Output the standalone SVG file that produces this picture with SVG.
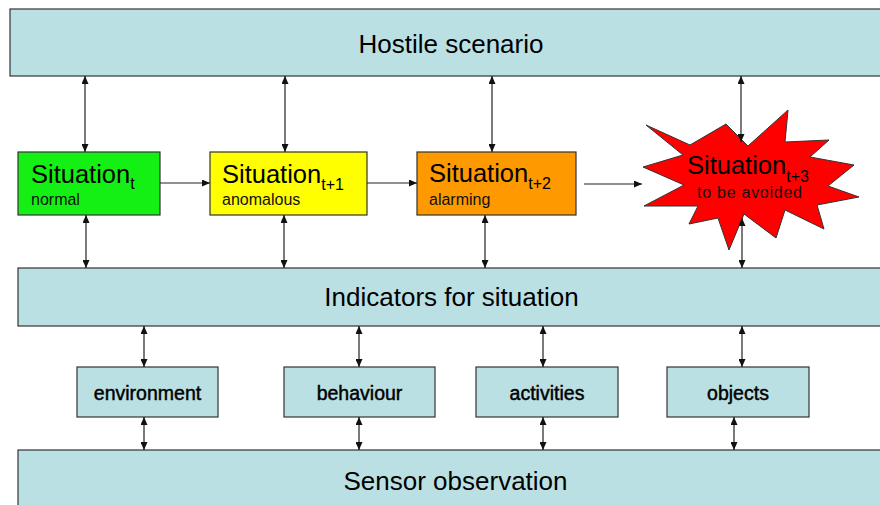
<svg xmlns="http://www.w3.org/2000/svg" width="880" height="505" viewBox="0 0 880 505">
<style>
  .bar { fill: #BBE0E3; stroke: #333; stroke-width: 1.2; }
  .small { fill: #BBE0E3; stroke: #333; stroke-width: 1.2; }
  .sit { stroke: #333; stroke-width: 1.2; }
  .big { font-family: "Liberation Sans", Arial, sans-serif; font-size: 26px; fill: #000; }
  .main { font-family: "Liberation Sans", Arial, sans-serif; font-size: 25.5px; fill: #000; }
  .sub { font-family: "Liberation Sans", Arial, sans-serif; font-size: 16px; fill: #000; }
  .lab { font-family: "Liberation Sans", Arial, sans-serif; font-size: 16px; fill: #111; }
  .box { font-family: "Liberation Sans", Arial, sans-serif; font-size: 19.5px; fill: #000; stroke: #000; stroke-width: 0.45; }
  .conn line { stroke: #222; stroke-width: 1.2; fill: none; }
</style>
<defs>
  <marker id="ah" markerUnits="userSpaceOnUse" markerWidth="8" markerHeight="7" refX="8" refY="3.5" orient="auto-start-reverse">
    <path d="M0,0 L8,3.5 L0,7 z" fill="#111"/>
  </marker>
</defs>
<rect width="880" height="505" fill="#fff"/>

<g id="hostile">
  <rect class="bar" x="10" y="9" width="880" height="67"/>
  <text class="big" x="451" y="53" text-anchor="middle">Hostile scenario</text>
</g>

<g id="situation-t">
  <rect class="sit" x="18" y="152" width="142" height="63" fill="#14F014"/>
  <text class="main" x="31" y="183">Situation<tspan class="sub" dy="6">t</tspan></text>
  <text class="lab" x="31" y="205">normal</text>
</g>

<g id="situation-t1">
  <rect class="sit" x="210" y="152" width="157" height="63" fill="#FFFF00"/>
  <text class="main" x="222" y="183">Situation<tspan class="sub" dy="7">t+1</tspan></text>
  <text class="lab" x="222" y="205">anomalous</text>
</g>

<g id="situation-t2">
  <rect class="sit" x="417" y="152" width="159" height="63" fill="#FF9900"/>
  <text class="main" x="429" y="182">Situation<tspan class="sub" dy="7">t+2</tspan></text>
  <text class="lab" x="429" y="205">alarming</text>
</g>

<g id="situation-t3">
  <polygon fill="#FF0000" stroke="#333" stroke-width="1" points="646,125 690,145 726,124 748,146 788,110 785,142 829,140 810,157 854,165 828,186 859,197 817,205 824,229 785,210 776,238 744,214 729,250 718,218 689,224 698,206 644,206 684,185 643,167 683,155"/>
  <text class="main" x="687" y="174" fill="#1a0000">Situation<tspan class="sub" dy="8">t+3</tspan></text>
  <text class="lab" x="697" y="198" font-size="17.5" textLength="105" fill="#1a0000">to be avoided</text>
</g>

<g id="indicators">
  <rect class="bar" x="18" y="268" width="880" height="58"/>
  <text class="big" x="451.5" y="306" text-anchor="middle">Indicators for situation</text>
</g>

<g id="environment">
  <rect class="small" x="77" y="367" width="141" height="50"/>
  <text class="box" x="147.5" y="400" text-anchor="middle">environment</text>
</g>
<g id="behaviour">
  <rect class="small" x="284" y="367" width="151" height="50"/>
  <text class="box" x="359.5" y="400" text-anchor="middle">behaviour</text>
</g>
<g id="activities">
  <rect class="small" x="476" y="367" width="142" height="50"/>
  <text class="box" x="547" y="400" text-anchor="middle">activities</text>
</g>
<g id="objects">
  <rect class="small" x="667" y="367" width="142" height="50"/>
  <text class="box" x="738" y="400" text-anchor="middle">objects</text>
</g>

<g id="sensor">
  <rect class="bar" x="18" y="450" width="880" height="70"/>
  <text class="big" x="455.5" y="490" text-anchor="middle">Sensor observation</text>
</g>

<g id="connectors" class="conn">
  <line x1="85" y1="76" x2="85" y2="152" marker-start="url(#ah)" marker-end="url(#ah)"/>
  <line x1="285" y1="76" x2="285" y2="152" marker-start="url(#ah)" marker-end="url(#ah)"/>
  <line x1="492" y1="76" x2="492" y2="152" marker-start="url(#ah)" marker-end="url(#ah)"/>
  <line x1="741" y1="76" x2="741" y2="142" marker-start="url(#ah)" marker-end="url(#ah)"/>

  <line x1="160" y1="183" x2="210" y2="183" marker-end="url(#ah)"/>
  <line x1="367" y1="183" x2="417" y2="183" marker-end="url(#ah)"/>
  <line x1="584" y1="184" x2="642" y2="184" marker-end="url(#ah)"/>

  <line x1="86" y1="215" x2="86" y2="268" marker-start="url(#ah)" marker-end="url(#ah)"/>
  <line x1="284" y1="215" x2="284" y2="268" marker-start="url(#ah)" marker-end="url(#ah)"/>
  <line x1="485" y1="215" x2="485" y2="268" marker-start="url(#ah)" marker-end="url(#ah)"/>
  <line x1="742" y1="218" x2="742" y2="268" marker-start="url(#ah)" marker-end="url(#ah)"/>

  <line x1="144" y1="326" x2="144" y2="367" marker-start="url(#ah)" marker-end="url(#ah)"/>
  <line x1="359" y1="326" x2="359" y2="367" marker-start="url(#ah)" marker-end="url(#ah)"/>
  <line x1="543" y1="326" x2="543" y2="367" marker-start="url(#ah)" marker-end="url(#ah)"/>
  <line x1="742" y1="326" x2="742" y2="367" marker-start="url(#ah)" marker-end="url(#ah)"/>

  <line x1="144" y1="417" x2="144" y2="450" marker-start="url(#ah)" marker-end="url(#ah)"/>
  <line x1="359" y1="417" x2="359" y2="450" marker-start="url(#ah)" marker-end="url(#ah)"/>
  <line x1="543" y1="417" x2="543" y2="450" marker-start="url(#ah)" marker-end="url(#ah)"/>
  <line x1="734" y1="417" x2="734" y2="450" marker-start="url(#ah)" marker-end="url(#ah)"/>
</g>
</svg>
